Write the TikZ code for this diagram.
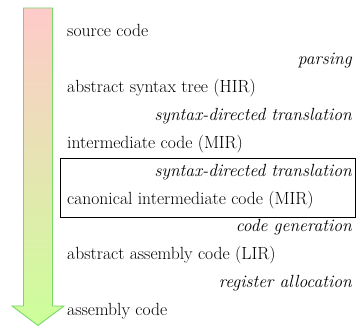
\documentclass[tikz,border=0pt]{standalone}
\begin{document}
\begin{tikzpicture}[x=1pt,y=-1pt,
  stage/.style={anchor=base west,inner sep=0pt,font=\fontsize{17.6}{21}\selectfont},
  pass/.style={anchor=base east,inner sep=0pt,font=\fontsize{17.6}{21}\selectfont\itshape}]
\useasboundingbox (0,0) rectangle (357,326);
\definecolor{topc}{HTML}{FFCACA}
\definecolor{botc}{HTML}{CCFF99}
\definecolor{edgec}{HTML}{77D866}
\shade[top color=topc,bottom color=botc]
  (23.5,8) -- (52.5,8) -- (52.5,306) -- (64,306) -- (38,325.5) -- (12,306) -- (23.5,306) -- cycle;
\draw[edgec,line width=0.9pt,line join=miter]
  (23.5,8) -- (52.5,8) -- (52.5,306) -- (64,306) -- (38,325.5) -- (12,306) -- (23.5,306) -- cycle;
\node[stage] (src) at (67,37) {source code};
\node[pass] (p1) at (352,65) {parsing};
\node[stage] (hir) at (67,93) {abstract syntax tree (HIR)};
\node[pass] (p2) at (352,121) {syntax-directed translation};
\node[stage] (mir) at (67,149) {intermediate code (MIR)};
\node[pass] (p3) at (352,177) {syntax-directed translation};
\node[stage] (cmir) at (67,205) {canonical intermediate code (MIR)};
\node[pass] (p4) at (352,232) {code generation};
\node[stage] (lir) at (67,260) {abstract assembly code (LIR)};
\node[pass] (p5) at (352,288) {register allocation};
\node[stage] (asm) at (67,316) {assembly code};
\draw[line width=0.9pt] (60,158) rectangle (355,217);
\end{tikzpicture}
\end{document}
